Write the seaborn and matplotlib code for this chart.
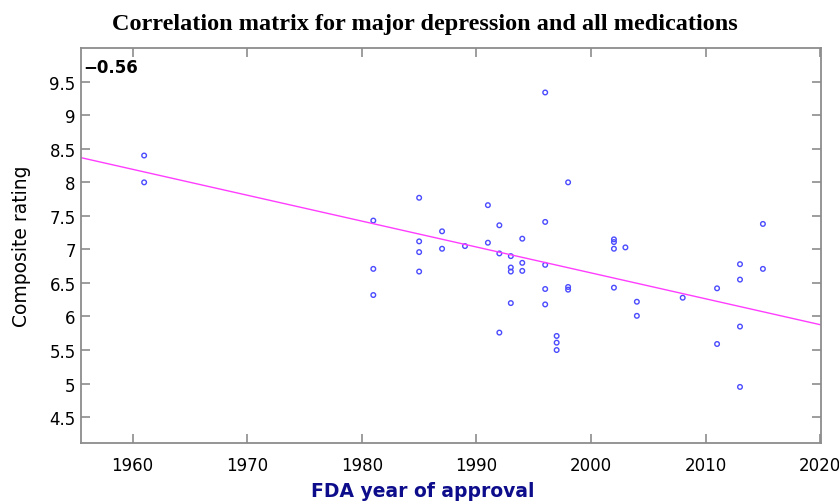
import numpy as np
import pandas as pd
import matplotlib
matplotlib.use("Agg")
import matplotlib.pyplot as plt
import seaborn as sns

# FDA approval year and composite rating for each medication
years = [1961, 1961,
         1981, 1981, 1981,
         1985, 1985, 1985, 1985,
         1987, 1987,
         1989,
         1991, 1991,
         1992, 1992, 1992,
         1993, 1993, 1993, 1993,
         1994, 1994, 1994,
         1996, 1996, 1996, 1996, 1996,
         1997, 1997, 1997,
         1998, 1998, 1998,
         2002, 2002, 2002, 2002,
         2003,
         2004, 2004,
         2008,
         2011, 2011,
         2013, 2013, 2013, 2013,
         2015, 2015]
ratings = [8.40, 8.00,
           7.43, 6.71, 6.32,
           7.77, 7.12, 6.96, 6.67,
           7.27, 7.01,
           7.05,
           7.66, 7.10,
           7.36, 6.94, 5.76,
           6.90, 6.73, 6.67, 6.20,
           7.16, 6.80, 6.68,
           9.34, 7.41, 6.77, 6.41, 6.18,
           5.71, 5.61, 5.50,
           8.00, 6.44, 6.40,
           7.15, 7.11, 7.01, 6.43,
           7.03,
           6.22, 6.01,
           6.28,
           6.42, 5.59,
           6.78, 6.55, 5.85, 4.95,
           7.38, 6.71]
# trend line as drawn in the chart (rating at year 2000 and slope per year)
trend_at_2000 = 6.65
trend_slope = -0.0386
corr_label = "\u22120.56"
y_ticks = [4.5, 5, 5.5, 6, 6.5, 7, 7.5, 8, 8.5, 9, 9.5]
x_ticks = [1960, 1970, 1980, 1990, 2000, 2010, 2020]

df = pd.DataFrame({"year": years, "rating": ratings})

sns.set_style("white")
plt.rcParams["font.family"] = ["DejaVu Sans"]
plt.rcParams["text.color"] = "black"

fig = plt.figure(figsize=(8.39, 5.02), dpi=100)
ax = fig.add_axes([0.096, 0.115, 0.882, 0.787])
ax.set_xlim(1955.45, 2020.03)
ax.set_ylim(4.11, 10.0)

sns.scatterplot(data=df, x="year", y="rating", ax=ax, marker="o", s=11,
                facecolors="none", edgecolor="#4b4bff", linewidth=1.0)
ax.axline((2000, trend_at_2000), slope=trend_slope, color="#ff3dff", linewidth=1.0)

ax.set_xticks(x_ticks)
ax.set_yticks(y_ticks)
ax.set_yticklabels([f"{t:g}" for t in y_ticks])
ax.tick_params(direction="in", length=6.5, width=1.2, color="#8c8c8c",
               labelsize=12, top=True, right=True, bottom=True, left=True,
               labelcolor="black")
ax.tick_params(axis="x", pad=9)
for sp in ax.spines.values():
    sp.set_color("#8c8c8c")
    sp.set_linewidth(1.3)
    sp.set_visible(True)

ax.set_xlabel("FDA year of approval", fontsize=13.5, fontweight="bold",
              color="#0d0d8c")
ax.xaxis.set_label_coords(0.463, -0.095)
ax.set_ylabel("Composite rating", fontsize=13.5, color="black", labelpad=13)
ax.text(0.004, 0.975, corr_label, transform=ax.transAxes, ha="left", va="top",
        fontsize=12, fontweight="bold", color="black")
fig.suptitle("Correlation matrix for major depression and all medications",
             x=0.506, y=0.972, fontsize=17.5, fontweight="bold", color="black",
             family=["Liberation Serif", "DejaVu Serif"])

fig.savefig("out.png", dpi=100)
